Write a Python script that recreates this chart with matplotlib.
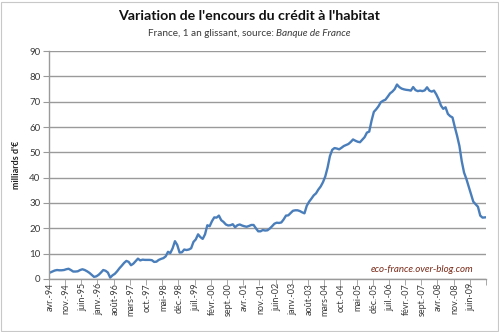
import numpy as np
import matplotlib
matplotlib.use("Agg")
import matplotlib.pyplot as plt
from matplotlib.patches import Rectangle

# Encours du crédit à l'habitat, variation sur 1 an glissant (milliards d'€), mensuel depuis avril 1994
mois = ["janv.", "févr.", "mars", "avr.", "mai", "juin",
        "juil.", "août", "sept.", "oct.", "nov.", "déc."]
annee_debut, mois_debut = 1994, 4

variation = [
    2.5, 2.9, 3.3, 3.5, 3.4, 3.4, 3.5, 3.8, 4.0, 3.5,
    2.9, 2.9, 3.0, 3.5, 3.8, 3.5, 3.0, 2.4, 1.6, 0.8,
    1.0, 1.6, 2.5, 3.5, 3.2, 2.5, 0.5, 1.4, 2.0, 3.0,
    4.2, 5.2, 6.3, 7.1, 6.7, 5.4, 6.0, 7.0, 8.0, 7.3,
    7.6, 7.5, 7.5, 7.5, 7.4, 6.7, 6.8, 7.5, 7.9, 8.2,
    8.9, 10.7, 10.2, 12.1, 14.9, 13.4, 10.4, 10.5, 11.6, 11.4,
    11.6, 12.1, 14.6, 15.6, 17.6, 16.5, 15.8, 17.6, 21.2, 20.8,
    22.8, 24.3, 24.2, 25.0, 23.2, 22.5, 21.5, 21.1, 21.2, 21.6,
    20.4, 21.2, 21.5, 21.1, 20.8, 20.6, 20.9, 21.3, 21.3, 20.0,
    18.8, 18.8, 19.3, 19.1, 19.2, 19.9, 20.8, 21.8, 22.2, 22.1,
    22.3, 23.5, 25.0, 25.1, 26.0, 26.9, 27.1, 27.1, 26.8, 26.3,
    25.9, 28.9, 30.5, 31.7, 33.0, 33.8, 35.3, 36.5, 38.2, 40.5,
    44.0, 48.5, 51.0, 51.7, 51.5, 51.2, 51.8, 52.5, 52.9, 53.3,
    54.1, 55.1, 54.6, 54.2, 54.0, 55.0, 56.0, 57.8, 58.2, 62.5,
    66.0, 67.0, 68.2, 69.8, 70.4, 70.8, 72.0, 73.3, 74.0, 75.0,
    76.8, 75.8, 75.2, 74.9, 74.7, 74.6, 74.4, 75.8, 74.6, 74.2,
    74.4, 74.2, 74.5, 75.7, 74.4, 74.0, 74.4, 72.9, 71.0, 68.5,
    67.2, 67.8, 65.2, 64.3, 63.8, 60.0, 56.5, 52.5, 46.5, 42.0,
    39.5, 36.5, 33.5, 30.5, 29.5, 28.5, 25.0, 24.2, 24.3,
]

n = len(variation)
etiquettes = []
for k in range(n):
    m = mois_debut - 1 + k
    etiquettes.append("%s-%02d" % (mois[m % 12], (annee_debut + m // 12) % 100))

pas = 7
x = np.arange(n)

plt.rcParams['font.family'] = ['Lato', 'DejaVu Sans']
gris_texte = "#3a3a3a"
gris_ligne = "#9a9a9a"

fig = plt.figure(figsize=(4.99, 3.32), dpi=100)
ax = fig.add_axes([0.098, 0.160, 0.876, 0.686])

ax.plot(x, variation, color="#4a7ebb", linewidth=1.7, solid_joinstyle="round")

ax.set_xlim(-0.5, n - 0.5)
ax.set_ylim(0, 90)
ax.set_yticks(range(0, 91, 10))
ax.yaxis.grid(True, color=gris_ligne, linewidth=1.0)
ax.set_axisbelow(True)

# étiquettes au centre des mois, graduations entre les catégories
ax.set_xticks(x[::pas])
ax.set_xticklabels(etiquettes[::pas], rotation=90, fontsize=6.5, color=gris_texte)
ax.tick_params(axis="x", which="major", length=0, pad=3)
ax.set_xticks(np.arange(-0.5, n, pas), minor=True)
ax.tick_params(axis="x", which="minor", length=4, color=gris_ligne, direction="out")
ax.tick_params(axis="y", length=4, color=gris_ligne, labelsize=7, labelcolor=gris_texte, pad=2)

for s in ["top", "right"]:
    ax.spines[s].set_visible(False)
for s in ["left", "bottom"]:
    ax.spines[s].set_color(gris_ligne)
    ax.spines[s].set_linewidth(1.0)

ax.set_ylabel("milliards d'€", fontsize=6.5, fontweight="bold", color="#222222", labelpad=6)

fig.text(0.5, 0.952, "Variation de l'encours du crédit à l'habitat",
         ha="center", va="center", fontsize=10.2, fontweight="bold", color="#111111")

# sous-titre : partie droite en italique
fig.canvas.draw()
r = fig.canvas.get_renderer()
t1 = fig.text(0, 0.898, "France, 1 an glissant, source: ", fontsize=7.2, color=gris_texte, va="center")
t2 = fig.text(0, 0.898, "Banque de France", fontsize=7.2, color=gris_texte, va="center", style="italic")
w1 = t1.get_window_extent(r).width / fig.bbox.width
w2 = t2.get_window_extent(r).width / fig.bbox.width
x0 = 0.5 - (w1 + w2) / 2
t1.set_x(x0)
t2.set_x(x0 + w1)

ax.text(0.97, 0.04, "eco-france.over-blog.com", transform=ax.transAxes, ha="right",
        va="center", fontsize=7, style="italic", color="#7b2c1a")

fig.patches.append(Rectangle((0.002, 0.004), 0.995, 0.99, transform=fig.transFigure,
                             fill=False, edgecolor="#c8c8c8", linewidth=0.8))

fig.savefig("out.png", dpi=100)
